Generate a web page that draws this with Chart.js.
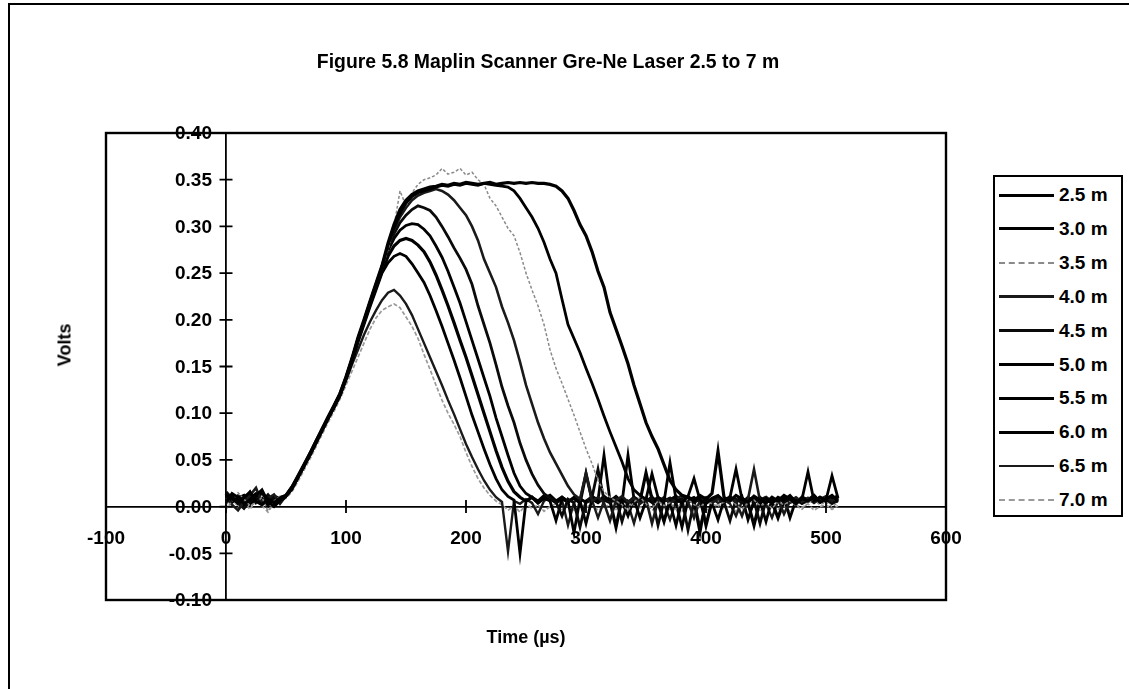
<!DOCTYPE html>
<html><head><meta charset="utf-8">
<script src="https://cdn.jsdelivr.net/npm/chart.js@4.4.1/dist/chart.umd.min.js"></script>
<style>
html,body{margin:0;padding:0;background:#fff;}
#wrap{position:relative;width:1129px;height:689px;overflow:hidden;font-family:"Liberation Sans",Arial,sans-serif;color:#000;}
#frame{position:absolute;left:8px;top:3px;width:1200px;height:800px;border-left:2px solid #000;border-top:2px solid #000;}
#c{position:absolute;left:0;top:0;}
#title{position:absolute;left:0;width:1096px;top:50px;text-align:center;font-weight:bold;font-size:19.4px;}
#ytitle{position:absolute;left:65px;top:345px;transform:translate(-50%,-50%) rotate(-90deg);font-weight:bold;font-size:18px;white-space:nowrap;}
#xtitle{position:absolute;left:526px;top:637px;transform:translate(-50%,-50%);font-weight:bold;font-size:18px;white-space:nowrap;}
#legend{position:absolute;left:993px;top:175px;width:126px;height:338px;border:2px solid #000;background:#fff;}
.row{position:absolute;left:4px;height:22px;display:flex;align-items:center;}
.sw{width:55px;margin-right:5px;height:0;}
.lab{font-size:19px;font-weight:bold;}
</style></head>
<body><div id="wrap">
<div id="frame"></div>
<canvas id="c" width="1129" height="689"></canvas>
<div id="title">Figure 5.8 Maplin Scanner Gre-Ne Laser 2.5 to 7 m</div>
<div id="ytitle">Volts</div>
<div id="xtitle">Time (µs)</div>
<div id="legend"></div>
</div>
<script>
const seriesNames = ["2.5 m","3.0 m","3.5 m","4.0 m","4.5 m","5.0 m","5.5 m","6.0 m","6.5 m","7.0 m"];
const xTicks = [-100,0,100,200,300,400,500,600];
const yTicks = [-0.10,-0.05,0.00,0.05,0.10,0.15,0.20,0.25,0.30,0.35,0.40];
const time = [0,5,10,15,20,25,30,35,40,45,50,55,60,65,70,75,80,85,90,95,100,105,110,115,120,125,130,135,140,145,150,155,160,165,170,175,180,185,190,195,200,205,210,215,220,225,230,235,240,245,250,255,260,265,270,275,280,285,290,295,300,305,310,315,320,325,330,335,340,345,350,355,360,365,370,375,380,385,390,395,400,405,410,415,420,425,430,435,440,445,450,455,460,465,470,475,480,485,490,495,500,505,510];

const s25 = [0.012,0.008,0.005,0.010,0.015,0.006,0.002,0.008,0.004,0.009,
0.012,0.021,0.033,0.045,0.057,0.070,0.083,0.096,0.108,0.121,0.139,0.159,0.181,0.200,0.220,0.239,0.258,
0.282,0.302,0.318,0.328,0.334,0.338,0.340,0.342,0.343,0.345,0.344,0.346,0.345,0.347,0.346,0.345,0.346,0.347,0.345,0.346,0.347,0.346,0.347,0.346,0.347,0.346,0.346,0.345,0.343,0.338,
0.330,0.317,0.302,0.290,0.273,0.252,0.235,0.208,0.190,0.172,0.153,0.130,0.110,0.090,0.075,0.062,0.045,0.028,0.018,0.012,
0.010,0.006,0.012,0.008,0.014,0.059,0.010,0.006,0.012,0.008,0.005,0.011,0.007,0.004,0.010,0.006,0.012,0.008,0.003,0.009,0.006,0.011,0.005,0.008,0.012,0.006];

const s30 = [0.004,0.014,0.010,0.003,0.007,0.012,0.018,0.005,0.000,0.006,
0.011,0.019,0.031,0.043,0.055,0.068,0.081,0.094,0.106,0.119,0.137,0.157,0.179,0.198,0.218,0.237,0.257,
0.280,0.298,0.314,0.325,0.332,0.336,0.338,0.340,0.342,0.344,0.343,0.345,0.344,0.346,0.345,0.344,0.346,0.345,0.344,0.343,0.342,
0.338,0.330,0.320,0.310,0.298,0.283,0.265,0.250,0.222,0.195,0.180,0.165,0.148,0.132,0.115,0.097,0.080,0.064,0.048,0.030,0.018,0.012,
0.008,0.035,0.010,0.005,0.047,0.008,0.004,0.011,0.030,0.007,0.003,0.009,0.012,0.006,0.010,0.040,0.008,0.005,0.011,0.006,0.009,0.004,0.010,0.007,0.012,0.005,0.008,0.037,0.006,0.010,0.007,0.033,0.009];

const s35 = [-0.003,0.006,0.015,0.008,0.001,0.004,0.010,-0.005,0.006,0.011,
0.010,0.018,0.030,0.042,0.054,0.067,0.080,0.093,0.105,0.118,0.136,0.156,0.178,0.197,0.217,0.236,0.256,
0.275,0.300,0.338,0.322,0.336,0.345,0.350,0.352,0.355,0.362,0.356,0.358,0.362,0.355,0.358,0.350,0.345,
0.330,0.322,0.310,0.298,0.290,0.272,0.250,0.232,0.215,0.195,0.168,0.148,0.132,0.115,0.098,0.080,0.062,0.046,0.028,0.016,0.010,
0.006,0.002,-0.004,0.005,0.010,0.003,-0.002,0.006,0.001,0.004,-0.003,0.005,0.008,0.002,-0.001,0.006,0.003,0.000,0.005,0.008,0.002,-0.003,0.004,0.007,0.001,0.004,-0.002,0.005,0.002,0.006,0.001,-0.003,0.004,0.007,0.002,0.005,0.000,0.004];

const s40 = [0.010,0.002,-0.004,0.005,0.012,0.020,0.004,0.009,0.013,0.003,
0.012,0.020,0.032,0.044,0.056,0.069,0.082,0.095,0.107,0.120,0.138,0.158,0.180,0.199,0.219,0.238,0.256,
0.278,0.296,0.310,0.320,0.328,0.333,0.336,0.338,0.340,0.338,0.334,0.328,0.320,0.312,0.300,0.285,0.265,0.250,0.235,0.214,0.197,0.178,0.155,0.130,0.110,0.090,0.073,0.058,0.046,0.034,0.022,0.013,
0.008,0.036,0.006,0.010,0.004,-0.015,0.007,0.011,0.005,0.009,0.003,0.008,-0.018,0.006,0.010,0.004,0.008,0.012,0.005,-0.012,0.007,0.010,0.004,0.008,0.006,0.011,0.005,-0.010,0.008,0.040,0.006,0.010,0.004,0.008,-0.008,0.006,0.010,0.005,0.009,0.004,0.008,0.011,0.006,0.010];

const s45 = [0.016,0.009,0.004,-0.002,0.006,0.010,0.003,0.012,0.007,0.010,
0.012,0.020,0.031,0.043,0.056,0.069,0.082,0.094,0.107,0.120,0.138,0.158,0.180,0.199,0.219,0.238,0.257,
0.276,0.292,0.304,0.312,0.318,0.322,0.320,0.317,0.310,0.300,0.289,0.277,0.266,0.254,0.238,0.215,0.195,0.175,0.152,0.128,0.108,0.090,0.068,0.050,0.035,0.023,0.014,
0.009,0.005,-0.010,0.008,0.004,-0.022,0.006,0.010,0.040,0.007,0.004,0.009,-0.016,0.006,0.003,0.008,0.005,0.010,-0.020,0.006,0.009,0.004,0.008,-0.025,0.005,0.009,0.004,0.007,0.011,0.005,-0.015,0.008,0.004,0.010,0.006,-0.018,0.007,0.004,0.009,0.005,0.010,0.004,0.008,0.006,0.010,0.005,0.009,0.004,0.007];

const s50 = [0.008,0.013,0.006,0.001,0.009,0.014,0.005,0.010,0.002,0.007,
0.011,0.020,0.032,0.044,0.056,0.069,0.082,0.095,0.107,0.120,0.137,0.157,0.179,0.198,0.218,0.236,0.254,
0.274,0.287,0.296,0.301,0.303,0.302,0.297,0.290,0.279,0.267,0.252,0.235,0.218,0.198,0.178,0.158,0.138,0.118,0.095,0.075,0.055,0.036,0.022,0.014,
0.010,0.006,0.012,0.008,0.004,0.010,0.006,-0.028,0.008,0.005,0.011,0.007,0.055,0.006,0.010,0.004,0.055,0.008,-0.012,0.006,0.010,0.005,0.009,0.004,-0.020,0.007,0.011,0.005,-0.028,0.008,0.004,0.010,0.006,0.009,0.005,0.011,-0.014,0.006,0.010,0.004,0.008,0.006,0.010,-0.012,0.007,0.004,0.009,0.006,0.010,0.005,0.008,0.012];

const s55 = [0.014,0.005,0.009,0.012,0.003,0.008,0.015,0.006,0.011,0.004,
0.012,0.021,0.032,0.044,0.057,0.070,0.082,0.095,0.108,0.121,0.138,0.157,0.178,0.197,0.216,0.234,0.252,
0.268,0.279,0.285,0.287,0.285,0.280,0.273,0.262,0.248,0.232,0.215,0.197,0.178,0.160,0.140,0.120,0.100,0.080,0.060,0.042,0.027,0.016,0.010,
0.006,0.010,0.004,0.009,0.012,0.006,0.010,0.005,0.009,0.004,0.035,0.008,0.005,0.011,0.006,-0.022,0.009,0.004,0.010,0.006,0.036,0.008,0.004,-0.016,0.007,0.011,0.005,0.009,0.004,0.010,-0.020,0.006,0.009,0.005,0.010,0.006,0.009,0.004,-0.020,0.007,0.010,0.005,-0.012,0.006,0.009,0.004,0.010,0.007,0.012,0.005,0.009,0.006,0.010];

const s60 = [0.006,0.011,0.003,0.008,0.016,0.004,0.009,0.001,0.012,0.008,
0.011,0.019,0.031,0.043,0.055,0.068,0.081,0.094,0.106,0.119,0.136,0.155,0.176,0.195,0.214,0.232,
0.250,0.261,0.268,0.271,0.268,0.260,0.250,0.240,0.226,0.210,0.193,0.175,0.157,0.138,0.118,0.098,0.080,0.062,0.045,0.030,0.018,0.011,
0.007,-0.050,0.006,0.010,0.004,0.009,0.006,-0.015,0.008,0.005,0.010,0.006,-0.018,0.008,0.004,0.009,0.006,0.011,0.005,-0.010,0.008,0.004,0.009,0.005,0.010,0.006,0.009,0.004,-0.022,0.007,0.010,0.005,0.008,0.004,-0.014,0.007,0.010,0.005,0.008,0.004,0.010,0.006,-0.016,0.008,0.005,0.010,0.006,0.009,0.004,0.008,0.005,0.010,0.006,0.009,0.005];

const s65 = [0.009,0.004,0.012,0.007,0.002,0.010,0.006,0.013,0.005,0.008,
0.011,0.019,0.031,0.043,0.055,0.068,0.081,0.094,0.106,0.118,
0.135,0.152,0.168,0.184,0.198,0.210,0.221,0.229,0.232,0.226,0.217,0.205,0.190,0.175,0.160,0.145,0.130,0.114,0.099,0.083,0.067,0.053,0.040,0.028,0.018,0.010,0.005,
-0.048,0.006,0.003,0.008,0.004,-0.008,0.006,0.010,0.004,0.007,-0.020,0.005,0.009,0.004,0.007,-0.012,0.006,0.009,0.004,0.007,0.003,-0.018,0.006,0.009,0.004,0.007,0.003,-0.014,0.006,0.009,0.004,0.008,-0.022,0.005,0.009,0.004,0.007,0.003,-0.010,0.006,0.009,0.004,0.007,0.003,-0.012,0.006,0.009,0.004,0.007,0.003,0.006,0.009,0.004,0.007,0.003,0.006];

const s70 = [0.002,0.008,0.000,0.005,-0.003,0.007,0.001,-0.006,0.004,0.006,
0.009,0.016,0.027,0.039,0.051,0.064,0.077,0.090,0.102,
0.115,0.130,0.145,0.160,0.175,0.190,0.202,0.210,0.214,0.217,0.213,0.203,0.193,0.180,0.163,0.147,0.130,0.114,0.100,0.088,0.075,0.058,0.043,0.030,0.020,0.012,0.006,0.002,
-0.004,0.001,-0.006,0.003,-0.002,0.002,-0.005,0.000,0.003,-0.003,0.001,-0.004,0.002,-0.001,0.003,-0.004,0.000,0.002,-0.003,0.001,-0.005,0.002,-0.001,0.003,-0.004,0.000,0.002,-0.003,0.001,-0.005,0.002,-0.001,0.003,-0.004,0.000,0.002,-0.003,0.001,-0.005,0.002,-0.001,0.003,-0.004,0.000,0.002,-0.003,0.001,-0.005,0.002,-0.001,0.003,-0.004,0.000,0.002,-0.003,0.001];

const seriesValues = [s25,s30,s35,s40,s45,s50,s55,s60,s65,s70];
const seriesColors = ["#000000","#000000","#8a8a8a","#1a1a1a","#0a0a0a","#000000","#000000","#000000","#1a1a1a","#9a9a9a"];
const seriesWidths = [3.2,2.8,1.5,2.6,2.8,2.8,3.2,2.8,2.4,1.7];
const seriesDash = [[],[],[3,2],[],[],[],[],[],[],[4,2]];

const datasets = seriesValues.map((vals, k) => ({
  label: seriesNames[k],
  data: vals.map((v, i) => ({x: time[i], y: v})),
  borderColor: seriesColors[k],
  borderWidth: seriesWidths[k],
  borderDash: seriesDash[k],
  pointRadius: 0,
  tension: 0,
  fill: false
}));

const labelFont = 'bold 19px "Liberation Sans", Arial, sans-serif';

const frameTicks = {
  id: 'frameTicks',
  afterDraw(chart) {
    const {ctx, chartArea: a, scales: {x, y}} = chart;
    ctx.save();
    ctx.strokeStyle = '#000';
    ctx.lineWidth = 2.4;
    ctx.strokeRect(a.left, a.top, a.right - a.left, a.bottom - a.top);
    ctx.lineWidth = 1.8;
    const x0 = x.getPixelForValue(0), y0 = y.getPixelForValue(0);
    ctx.beginPath();
    y.ticks.forEach(t => { const py = y.getPixelForValue(t.value); ctx.moveTo(x0 - 6.5, py); ctx.lineTo(x0 + 6.5, py); });
    x.ticks.forEach(t => { const px = x.getPixelForValue(t.value); ctx.moveTo(px, y0 - 6.5); ctx.lineTo(px, y0 + 6.5); });
    ctx.stroke();
    ctx.fillStyle = '#000';
    ctx.font = labelFont;
    ctx.textAlign = 'right';
    ctx.textBaseline = 'middle';
    y.ticks.forEach(t => { ctx.fillText(Number(t.value).toFixed(2), x0 - 14, y.getPixelForValue(t.value) + 1); });
    ctx.restore();
  }
};

new Chart(document.getElementById('c'), {
  type: 'line',
  data: { datasets },
  options: {
    responsive: false,
    animation: false,
    layout: { padding: { left: 106, top: 133, right: 183, bottom: 89 } },
    plugins: { legend: { display: false }, title: { display: false }, tooltip: { enabled: false } },
    scales: {
      x: {
        type: 'linear', min: xTicks[0], max: xTicks[xTicks.length - 1],
        position: { y: 0 },
        grid: { display: false, drawTicks: false },
        border: { display: true, color: '#000', width: 1.8 },
        afterBuildTicks: s => { s.ticks = xTicks.map(v => ({value: v})); },
        ticks: { autoSkip: false, maxRotation: 0, padding: 21, color: '#000', font: { family: 'Liberation Sans', size: 19, weight: 'bold' }, callback: v => String(v) }
      },
      y: {
        type: 'linear', min: yTicks[0], max: yTicks[yTicks.length - 1],
        position: { x: 0 },
        grid: { display: false, drawTicks: false },
        border: { display: true, color: '#000', width: 1.8 },
        afterBuildTicks: s => { s.ticks = yTicks.map(v => ({value: v})); },
        ticks: { display: false }
      }
    }
  },
  plugins: [frameTicks]
});

const leg = document.getElementById('legend');
seriesNames.forEach((n, k) => {
  const r = document.createElement('div');
  r.className = 'row';
  r.style.top = (7 + k * 33.9) + 'px';
  const sw = document.createElement('span');
  sw.className = 'sw';
  sw.style.borderTop = Math.max(2, Math.round(seriesWidths[k])) + 'px ' + (seriesDash[k].length ? 'dashed ' : 'solid ') + seriesColors[k];
  const lb = document.createElement('span');
  lb.className = 'lab';
  lb.textContent = n;
  r.appendChild(sw); r.appendChild(lb);
  leg.appendChild(r);
});
</script>
</body></html>
